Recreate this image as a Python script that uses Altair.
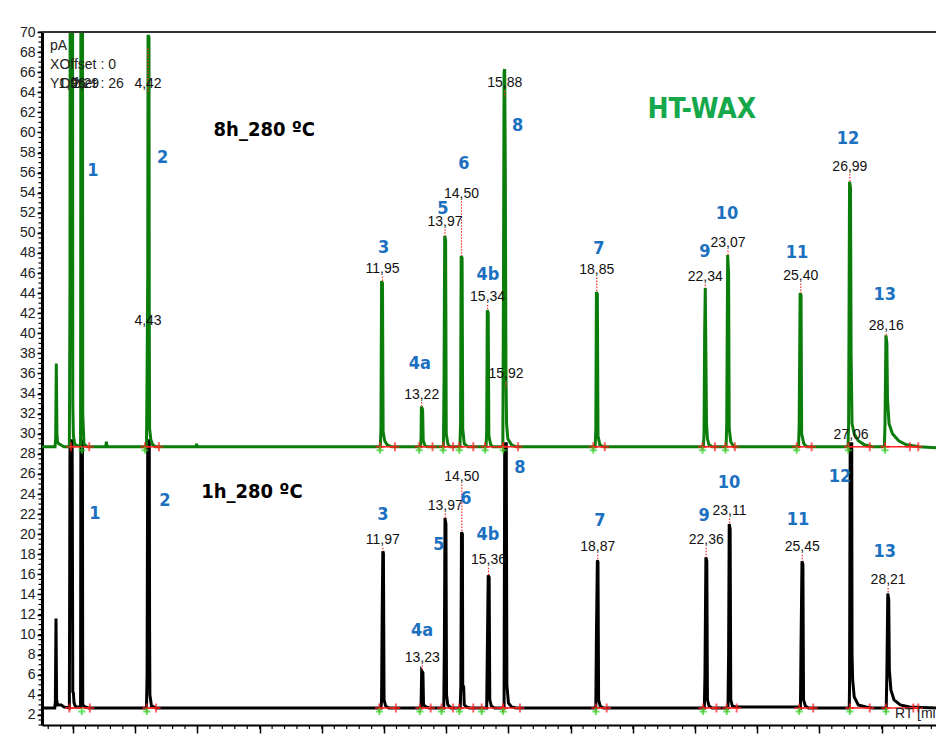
import altair as alt
import pandas as pd
import numpy as np

# ---------------- data (retention time [min], signal [pA]) ----------------
trace_8h = [
    (1.00, 28.7), (1.42, 28.7), (1.44, 29.6), (1.46, 37.0), (1.48, 30.0), (1.50, 29.2), (1.54, 29.0), (1.60, 28.9), (1.70, 28.7),
    (1.88, 28.7), (1.90, 45.0), (1.92, 150.0), (1.97, 150.0), (1.99, 33.0), (2.01, 29.8), (2.05, 29.0), (2.12, 28.8),
    (2.24, 28.8), (2.25, 70.0), (2.26, 150.0), (2.29, 150.0), (2.31, 32.0), (2.35, 29.0), (2.45, 28.7),
    (3.05, 28.7), (3.07, 29.2), (3.09, 28.7),
    (4.36, 28.7), (4.38, 36.0), (4.40, 46.0), (4.41, 69.7), (4.44, 69.5), (4.45, 41.0), (4.46, 30.5), (4.50, 29.4), (4.56, 28.9), (4.65, 28.7),
    (5.95, 28.7), (5.97, 29.0), (5.99, 28.7),
    (11.88, 28.7), (11.90, 30.5), (11.92, 45.2), (11.95, 45.0), (11.97, 30.2), (12.02, 29.3), (12.10, 28.9), (12.25, 28.7),
    (13.17, 28.7), (13.19, 29.5), (13.20, 32.7), (13.24, 32.4), (13.26, 29.3), (13.32, 28.8), (13.40, 28.7),
    (13.91, 28.7), (13.93, 36.0), (13.95, 49.7), (13.98, 49.3), (14.00, 30.0), (14.05, 29.0), (14.12, 28.7),
    (14.44, 28.7), (14.46, 31.0), (14.48, 47.7), (14.51, 47.5), (14.53, 30.5), (14.58, 29.0), (14.70, 28.7),
    (15.28, 28.7), (15.30, 30.2), (15.32, 42.3), (15.35, 42.0), (15.37, 29.8), (15.43, 28.9), (15.50, 28.7),
    (15.82, 28.7), (15.84, 45.0), (15.86, 66.0), (15.88, 66.3), (15.90, 56.0), (15.92, 36.4), (15.94, 31.0), (15.98, 29.5), (16.10, 28.9), (16.25, 28.7),
    (18.79, 28.7), (18.81, 30.5), (18.83, 44.1), (18.86, 43.9), (18.88, 29.8), (18.94, 28.9), (19.05, 28.7),
    (22.27, 28.7), (22.29, 30.0), (22.31, 40.0), (22.33, 44.5), (22.35, 38.0), (22.37, 31.0), (22.40, 29.5), (22.45, 28.9), (22.55, 28.7),
    (23.00, 28.7), (23.02, 31.0), (23.05, 47.8), (23.08, 46.0), (23.10, 30.5), (23.15, 29.2), (23.25, 28.7),
    (25.33, 28.7), (25.35, 31.0), (25.38, 44.0), (25.41, 43.8), (25.43, 30.0), (25.50, 29.0), (25.60, 28.7),
    (26.92, 28.7), (26.94, 31.0), (26.97, 55.1), (27.00, 54.5), (27.02, 38.0), (27.05, 31.0), (27.12, 30.0), (27.25, 29.3), (27.45, 28.9), (27.70, 28.7),
    (28.09, 28.7), (28.11, 31.0), (28.14, 39.8), (28.17, 39.0), (28.19, 33.5), (28.24, 31.0), (28.35, 30.0), (28.55, 29.3), (28.80, 28.9), (29.20, 28.7), (29.75, 28.6),
]

trace_1h = [
    (1.00, 2.7), (1.41, 2.7), (1.43, 3.3), (1.45, 11.6), (1.47, 3.5), (1.50, 3.0), (1.62, 3.0), (1.70, 2.8),
    (1.88, 2.7), (1.90, 29.3), (1.97, 29.3), (1.99, 4.3), (2.01, 4.2), (2.03, 3.2), (2.08, 2.8),
    (2.24, 2.8), (2.25, 29.3), (2.30, 29.3), (2.31, 3.0), (2.38, 2.8), (2.50, 2.7),
    (4.36, 2.7), (4.38, 6.2), (4.40, 29.3), (4.45, 29.3), (4.46, 10.5), (4.47, 4.0), (4.52, 2.9), (4.65, 2.7),
    (11.90, 2.7), (11.92, 3.5), (11.94, 12.0), (11.96, 18.3), (11.98, 18.1), (12.00, 3.5), (12.05, 2.9), (12.15, 2.7),
    (13.19, 2.7), (13.21, 6.4), (13.25, 6.2), (13.27, 3.0), (13.35, 2.8), (13.45, 2.7),
    (13.92, 2.7), (13.94, 9.0), (13.96, 21.6), (13.99, 21.0), (14.01, 4.0), (14.05, 3.0), (14.15, 2.7),
    (14.45, 2.7), (14.47, 5.0), (14.49, 20.2), (14.52, 20.0), (14.53, 5.0), (14.56, 4.8), (14.58, 3.0), (14.65, 2.8), (14.75, 2.7),
    (15.30, 2.7), (15.32, 8.0), (15.35, 15.9), (15.38, 15.7), (15.40, 3.5), (15.45, 2.9), (15.55, 2.7),
    (15.86, 2.7), (15.88, 29.0), (15.93, 29.0), (15.95, 5.0), (16.00, 3.2), (16.10, 2.8), (16.25, 2.7),
    (18.81, 2.7), (18.83, 10.0), (18.86, 17.4), (18.88, 17.2), (18.90, 3.5), (18.95, 2.9), (19.05, 2.7),
    (22.30, 2.7), (22.32, 6.0), (22.35, 17.7), (22.38, 17.3), (22.40, 3.5), (22.45, 2.9), (22.55, 2.7),
    (23.06, 2.7), (23.08, 8.0), (23.10, 21.0), (23.13, 20.5), (23.15, 3.5), (23.20, 2.9), (23.30, 2.8), (25.30, 2.8),
    (25.39, 2.7), (25.41, 9.0), (25.44, 17.3), (25.47, 17.0), (25.49, 3.5), (25.55, 2.9), (25.65, 2.7),
    (26.96, 2.7), (26.97, 5.0), (26.99, 29.0), (27.04, 29.0), (27.05, 8.0), (27.07, 5.5), (27.12, 3.8), (27.25, 3.0), (27.50, 2.8), (27.70, 2.7),
    (28.15, 2.7), (28.17, 6.0), (28.20, 14.1), (28.23, 13.5), (28.25, 6.5), (28.30, 4.5), (28.40, 3.5), (28.60, 3.0), (28.90, 2.8), (29.75, 2.7),
]

# integration baselines (start, end) and peak-start markers
seg_8h = [(1.93, 2.52), (4.31, 4.76), (11.87, 12.35), (13.13, 13.56), (13.90, 14.22), (14.42, 14.87), (15.25, 15.83),
          (15.83, 16.31), (18.73, 19.10), (22.24, 22.64), (22.98, 23.28), (25.27, 25.75), (26.93, 27.62), (28.11, 29.18)]
seg_1h = [(1.88, 2.54), (4.37, 4.67), (11.85, 12.38), (13.15, 13.50), (13.85, 14.22), (14.42, 14.87), (15.14, 15.83),
          (15.83, 16.37), (18.81, 19.16), (22.26, 22.69), (23.02, 23.34), (25.35, 25.80), (26.98, 27.62), (28.14, 29.18)]
extra_red_8h = [28.91]
extra_red_1h = [29.02]
green_mk_8h = [2.28, 4.31, 11.87, 13.13, 13.90, 14.42, 15.25, 15.83, 18.73, 22.24, 22.98, 25.27, 26.93, 28.11]
green_mk_1h = [2.28, 4.37, 11.85, 13.15, 13.85, 14.42, 15.14, 15.83, 18.81, 22.26, 23.02, 25.35, 26.98, 28.14]
base_8h = 28.7
base_1h = 2.7

# retention-time labels: (rt, label y, apex y, text)
rt_labels = [
    (1.97, 64.8, None, "1,96"), (2.40, 64.8, None, "2,29"),
    (4.41, 64.8, 68.4, "4,42"), (4.41, 41.2, None, "4,43"),
    (11.95, 46.4, 45.2, "11,95"), (13.21, 33.9, 32.7, "13,22"), (13.96, 51.1, 49.7, "13,97"),
    (14.49, 53.9, 47.7, "14,50"), (15.33, 43.6, 42.3, "15,34"), (15.92, 35.9, 34.5, "15,92"),
    (15.88, 64.9, 63.5, "15,88"), (18.84, 46.3, 44.1, "18,85"), (22.33, 45.6, 44.5, "22,34"),
    (23.06, 49.0, 47.8, "23,07"), (25.40, 45.7, 44.0, "25,40"), (26.98, 56.6, 55.1, "26,99"),
    (27.02, 29.9, 29.1, "27,06"), (28.15, 40.7, 39.8, "28,16"),
    (11.96, 19.4, 18.3, "11,97"), (13.23, 7.7, 6.4, "13,23"), (13.97, 22.8, 21.6, "13,97"),
    (14.50, 25.7, 20.2, "14,50"), (15.36, 17.4, 15.9, "15,36"), (18.87, 18.7, 17.4, "18,87"),
    (22.36, 19.4, 17.7, "22,36"), (23.11, 22.3, 21.0, "23,11"), (25.45, 18.7, 17.3, "25,45"),
    (28.21, 15.4, 14.1, "28,21"),
]

# compound numbers: (rt, y, text)
compound_labels = [
    (2.64, 56.2, "1"), (4.88, 57.5, "2"), (11.99, 48.5, "3"), (13.15, 36.9, "4a"), (13.89, 52.4, "5"),
    (14.57, 56.9, "6"), (15.34, 45.8, "4b"), (16.30, 60.6, "8"), (18.91, 48.4, "7"), (22.32, 48.1, "9"),
    (23.03, 51.9, "10"), (25.28, 48.0, "11"), (26.92, 59.3, "12"), (28.10, 43.8, "13"),
    (2.70, 22.0, "1"), (4.95, 23.3, "2"), (11.96, 21.9, "3"), (13.22, 10.35, "4a"), (13.76, 18.9, "5"),
    (14.63, 23.5, "6"), (15.34, 19.9, "4b"), (16.37, 26.6, "8"), (18.94, 21.3, "7"), (22.29, 21.8, "9"),
    (23.09, 25.1, "10"), (25.31, 21.4, "11"), (26.66, 25.7, "12"), (28.10, 18.2, "13"),
]

x_ticks = list(range(2, 30, 2))
y_ticks = list(range(2, 72, 2))
X_DOMAIN = [1.0, 29.75]
Y_DOMAIN = [1.0, 70.0]
W, H = 894, 693

# ---------------- frames ----------------
df8 = pd.DataFrame(trace_8h, columns=["rt", "pA"])
df1 = pd.DataFrame(trace_1h, columns=["rt", "pA"])
seg_df = pd.DataFrame(
    [(a, b, base_8h) for a, b in seg_8h] + [(a, b, base_1h) for a, b in seg_1h],
    columns=["rt", "rt2", "pA"])
red_df = pd.DataFrame(
    [(a, base_8h) for a, b in seg_8h] + [(b, base_8h) for a, b in seg_8h] + [(t, base_8h) for t in extra_red_8h]
    + [(a, base_1h) for a, b in seg_1h] + [(b, base_1h) for a, b in seg_1h] + [(t, base_1h) for t in extra_red_1h],
    columns=["rt", "pA"])
green_df = pd.DataFrame(
    [(t, base_8h - 0.35) for t in green_mk_8h] + [(t, base_1h - 0.35) for t in green_mk_1h],
    columns=["rt", "pA"])
lab_df = pd.DataFrame(rt_labels, columns=["rt", "y", "apex", "text"])
lead_df = lab_df.dropna(subset=["apex"]).copy()
lead_df["top"] = lead_df["y"] - 0.75
cmp_df = pd.DataFrame(compound_labels, columns=["rt", "y", "text"])
ymin_df = pd.DataFrame({"v": np.arange(1.0, 70.01, 0.5)})
xmin_df = pd.DataFrame({"v": np.arange(1.2, 29.75, 0.4)})

xs = alt.Scale(domain=X_DOMAIN, nice=False, zero=False)
ys = alt.Scale(domain=Y_DOMAIN, nice=False, zero=False)

x_axis = alt.Axis(values=x_ticks, title=None, grid=False, tickSize=8, tickWidth=1.5, tickColor="black",
                  domainColor="black", domainWidth=2, labelFontSize=14, labelFont="Liberation Sans",
                  labelColor="#222", labelPadding=1, labelFlush=False, labelOverlap=False)
y_axis = alt.Axis(values=y_ticks, title=None, grid=False, tickSize=5, tickWidth=1.5, tickColor="black",
                  domainColor="black", domainWidth=3, labelFontSize=14, labelFont="Liberation Sans",
                  labelColor="#222", labelPadding=2, labelFlush=False, labelOverlap=False)

NUM_FONT = "Liberation Sans"
COND_FONT = "'Liberation Sans Narrow', 'DejaVu Sans Condensed', 'Roboto', sans-serif"


def X(field):
    return alt.X(field, scale=xs, axis=x_axis, title=None)


def Y(field):
    return alt.Y(field, scale=ys, axis=y_axis, title=None)


line1 = alt.Chart(df1).mark_line(color="black", strokeWidth=3, clip=True, interpolate="linear").encode(
    x=X("rt:Q"), y=Y("pA:Q"), order="rt:Q")
line8 = alt.Chart(df8).mark_line(color="#0a7d0a", strokeWidth=3, clip=True, interpolate="linear").encode(
    x=X("rt:Q"), y=Y("pA:Q"), order="rt:Q")

segs = alt.Chart(seg_df).mark_rule(color="#ff2020", strokeWidth=1.5).encode(
    x=X("rt:Q"), x2="rt2:Q", y=Y("pA:Q"))
plus = "M-1,0H1M0,-1V1"
red_pts = alt.Chart(red_df).mark_point(shape=plus, filled=False, color="#ff2020", size=80, strokeWidth=2).encode(
    x=X("rt:Q"), y=Y("pA:Q"))
green_pts = alt.Chart(green_df).mark_point(shape=plus, filled=False, color="#22dd22", size=50, strokeWidth=2).encode(
    x=X("rt:Q"), y=Y("pA:Q"))

leaders = alt.Chart(lead_df).mark_rule(color="#ff3030", strokeWidth=1.2, strokeDash=[1.5, 1.5]).encode(
    x=X("rt:Q"), y=Y("top:Q"), y2="apex:Q")
rt_text = alt.Chart(lab_df).mark_text(font=NUM_FONT, fontSize=14, color="#111", baseline="middle", align="center").encode(
    x=X("rt:Q"), y=Y("y:Q"), text="text:N")
cmp_text = alt.Chart(cmp_df).mark_text(font=COND_FONT, fontSize=18, fontWeight="bold", color="#1b70c0",
                                        baseline="middle", align="center").encode(
    x=X("rt:Q"), y=Y("y:Q"), text="text:N")

misc = pd.DataFrame([
    (8.15, 60.2, "8h_280 ºC"), (7.75, 24.2, "1h_280 ºC")], columns=["rt", "y", "text"])
cond_text = alt.Chart(misc).mark_text(font=COND_FONT, fontSize=20, fontWeight="bold", color="black",
                                      baseline="middle", align="center").encode(
    x=X("rt:Q"), y=Y("y:Q"), text="text:N")
htwax = alt.Chart(pd.DataFrame({"rt": [22.22], "y": [62.2], "text": ["HT-WAX"]})).mark_text(
    font=COND_FONT, fontSize=28, fontWeight="bold", color="#14a84b", baseline="middle", align="center").encode(
    x=X("rt:Q"), y=Y("y:Q"), text="text:N")
info = pd.DataFrame([(1.26, 68.6, "pA"), (1.26, 66.7, "XOffset : 0"), (1.26, 64.8, "YOffset : 26"),
                     (28.43, 2.1, "RT [min]")], columns=["rt", "y", "text"])
info_text = alt.Chart(info).mark_text(font=NUM_FONT, fontSize=14, color="#222", baseline="middle", align="left").encode(
    x=X("rt:Q"), y=Y("y:Q"), text="text:N")

y_minor = alt.Chart(ymin_df).mark_rule(color="black", strokeWidth=1.2).encode(
    y=Y("v:Q"), x=alt.value(-3.5), x2=alt.value(0))
x_minor = alt.Chart(xmin_df).mark_rule(color="black", strokeWidth=1.2).encode(
    x=X("v:Q"), y=alt.value(H), y2=alt.value(H + 4))
top_line = alt.Chart(pd.DataFrame({"a": [0]})).mark_rule(color="#333", strokeWidth=2).encode(
    x=alt.value(0), x2=alt.value(W), y=alt.value(0))

chart = alt.layer(
    line1, line8, segs, red_pts, green_pts, leaders, rt_text, cmp_text, cond_text, htwax, info_text,
    y_minor, x_minor, top_line
).properties(
    width=W, height=H,
    padding={"left": 42, "top": 32, "right": 0, "bottom": 11},
    autosize=alt.AutoSizeParams(type="none"),
    background="white",
).configure_view(stroke=None).configure_axis(labelOverlap=False)

chart.save("out.html", embed_options={"renderer": "svg", "actions": False})
